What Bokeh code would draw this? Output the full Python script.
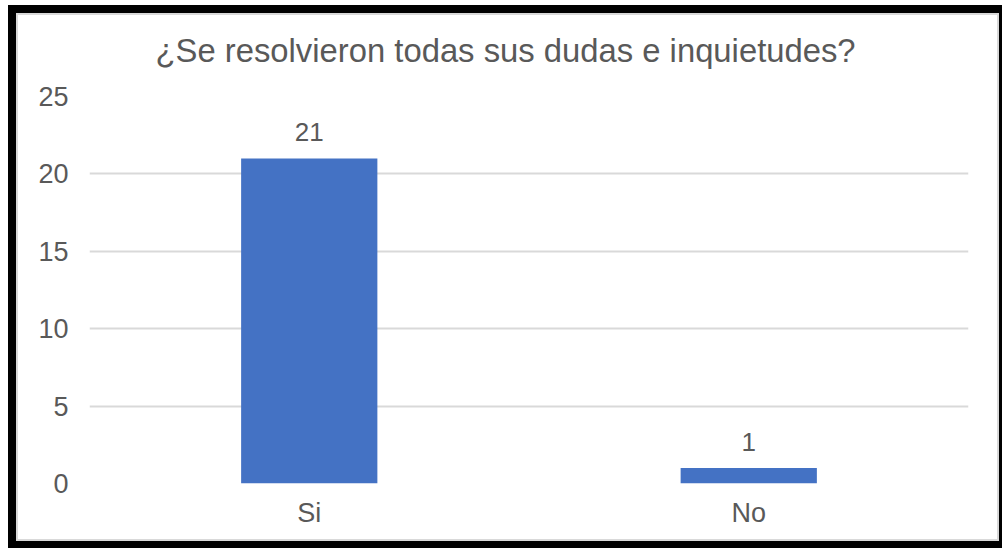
from bokeh.plotting import figure
from bokeh.models import Range1d, FixedTicker, ColumnDataSource
from bokeh.core.properties import value
from bokeh.embed import file_html
from bokeh.resources import INLINE

title = "¿Se resolvieron todas sus dudas e inquietudes?"
categories = ["Si", "No"]
counts = [21, 1]
y_ticks = [0, 5, 10, 15, 20, 25]

FONT = "Liberation Sans"
TXT = "#595959"

src = ColumnDataSource(dict(cat=categories, val=counts, lab=[str(v) for v in counts]))

p = figure(x_range=categories, y_range=Range1d(0, 25), width=1002, height=548,
           output_backend="svg", toolbar_location=None,
           min_border_left=81, min_border_right=42, min_border_top=96, min_border_bottom=65,
           border_fill_color=None, background_fill_color=None)
p.styles = {
    "background-color": "white",
    "border-style": "solid",
    "border-color": "white",
    "border-width": "0px 0px 0px 8px",
    "box-shadow": ("inset 0 5px 0 0 white, "
                   "inset 8px 0 0 0 black, inset 0 13px 0 0 black, "
                   "inset -3px 0 0 0 black, inset 0 -7px 0 0 black, "
                   "inset 10px 0 0 0 #d9d9d9, inset 0 15px 0 0 #d9d9d9, "
                   "inset -5px 0 0 0 #d9d9d9, inset 0 -9px 0 0 #d9d9d9"),
}

p.title.text = title
p.title.text_font = FONT
p.title.text_font_size = "32.8px"
p.title.text_font_style = "normal"
p.title.text_color = TXT
p.title.align = "left"
p.title.offset = 66
p.title.standoff = 56

p.vbar(x="cat", top="val", width=0.31, source=src, fill_color="#4472C4", line_color=None)
p.text(x="cat", y="val", text="lab", source=src, text_font=value(FONT), text_font_size="26px",
       text_color=TXT, text_align="center", text_baseline="middle", y_offset=-26)

p.outline_line_color = None
p.xgrid.grid_line_color = None
p.ygrid.grid_line_color = "#d9d9d9"
p.ygrid.grid_line_width = 2

p.yaxis.ticker = FixedTicker(ticks=y_ticks)
for ax in (p.xaxis, p.yaxis):
    ax.axis_line_color = None
    ax.major_tick_line_color = None
    ax.minor_tick_line_color = None
    ax.major_label_text_font = FONT
    ax.major_label_text_font_size = "27px"
    ax.major_label_text_color = TXT
p.yaxis.major_label_standoff = 15
p.xaxis.major_label_standoff = 8

open("out.html", "w").write(file_html(p, INLINE))
